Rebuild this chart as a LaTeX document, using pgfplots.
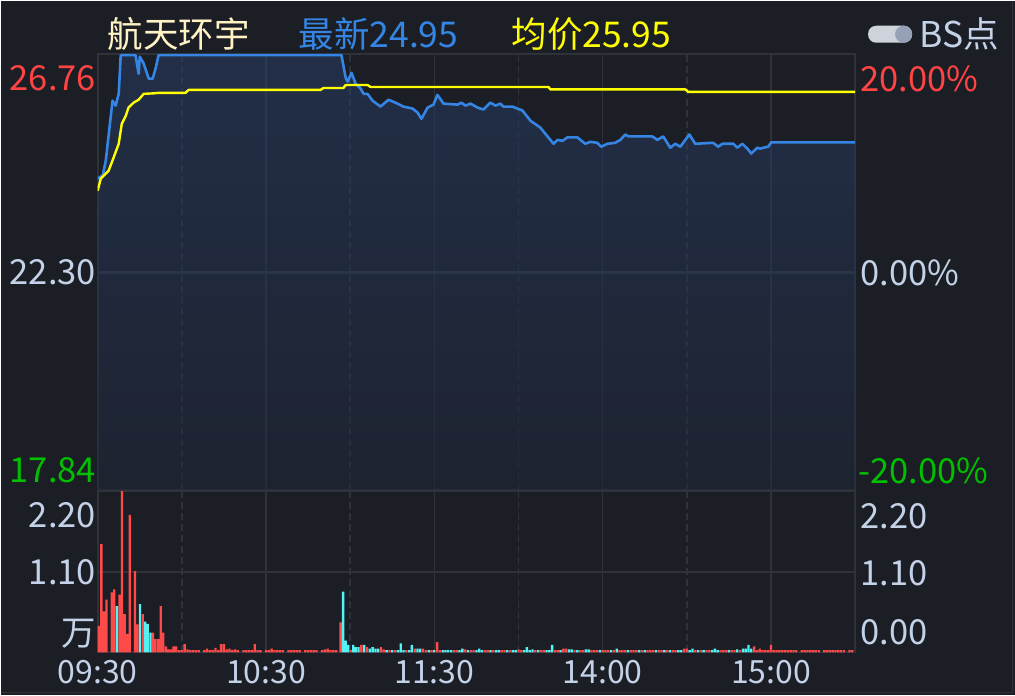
\documentclass[border=0pt]{standalone}
\usepackage{pgfplots}
\pgfplotsset{compat=1.18}
\usepackage{fontspec}
\setmainfont{Noto Sans CJK SC}
\definecolor{bg}{RGB}{28,30,37}
\definecolor{gridc}{RGB}{48,50,58}
\definecolor{gridz}{RGB}{50,56,70}
\definecolor{pline}{RGB}{52,133,228}
\definecolor{avgc}{RGB}{255,255,0}
\definecolor{upred}{RGB}{255,74,74}
\definecolor{dncyan}{RGB}{84,242,242}
\definecolor{lbl}{RGB}{196,210,232}
\definecolor{lblred}{RGB}{255,68,68}
\definecolor{lblgreen}{RGB}{0,192,0}
\definecolor{titlec}{RGB}{255,242,196}
\definecolor{fillt}{RGB}{40,64,107}
\definecolor{fillb}{RGB}{32,40,59}
\definecolor{toga}{RGB}{206,210,218}
\definecolor{togb}{RGB}{150,160,182}
\newcommand\lf{\fontsize{34.5}{41}\selectfont}
\newcommand\hf{\fontsize{35.5}{42}\selectfont}
\newcommand\tf{\fontsize{32}{38}\selectfont}
\begin{document}
\begin{tikzpicture}[x=1pt,y=1pt]
\fill[bg] (0,0) rectangle (1015,-695);
\draw[gridc, line width=1.5pt] (1012.5,0) -- (1012.5,-692.5) -- (0,-692.5);
% price panel
\begin{axis}[
  at={(97pt,-490pt)}, anchor=south west,
  width=758pt, height=437pt, scale only axis,
  xmin=0, xmax=270, ymin=17.84, ymax=26.76,
  axis line style={draw=gridc, line width=2pt},
  xtick={60,120,180,240}, xticklabels={},
  xmajorgrids,
  major grid style={draw=gridc, line width=1.6pt},
  extra x ticks={30,90,150,210}, extra x tick labels={},
  extra x tick style={xmajorgrids=true, major grid style={draw=gridc, line width=1.6pt, dash pattern=on 7pt off 4pt}},
  ytick={18.25,22.30,26.25},
  yticklabels={\textcolor{lblgreen}{17.84},\textcolor{lbl}{22.30},\textcolor{lblred}{26.76}},
  extra y ticks={22.30}, extra y tick labels={},
  extra y tick style={ymajorgrids=true, major grid style={draw=gridz, line width=3pt}},
  major tick length=0pt,
  tick style={draw=none},
  yticklabel style={font=\lf, inner sep=0pt, anchor=east, xshift=-1.5pt},
  clip mode=individual,
]
\addplot[draw=none, top color=fillt, bottom color=fillb, fill opacity=0.5] coordinates {
(0,24.21) (1.1,24.25) (1.8,24.27) (2.9,24.58) (4.6,25.45) (5.3,25.80) (6.4,25.70) (7.5,25.94) (8.2,26.72) (8.5,26.73) (13.5,26.73) (14.6,26.35) (15.0,26.70) (16.4,26.56) (18.2,26.25) (19.6,26.25) (20.7,26.47) (21.7,26.73) (86.9,26.73) (88.4,26.27) (89.1,26.19) (90.5,26.37) (91.9,26.15) (93.7,26.05) (94.8,25.94) (96.2,25.94) (98.0,25.80) (100.8,25.68) (103.7,25.82) (106.9,25.74) (109.0,25.68) (112.2,25.64) (114.0,25.56) (115.4,25.43) (117.6,25.66) (119.7,25.72) (121.1,25.92) (123.3,25.74) (128.3,25.72) (129.7,25.76) (131.1,25.70) (132.9,25.74) (135.4,25.66) (137.5,25.62) (140.0,25.76) (141.8,25.70) (143.6,25.74) (144.6,25.68) (147.8,25.68) (149.6,25.64) (151.4,25.60) (154.3,25.39) (157.8,25.25) (162.5,24.92) (163.9,25.00) (165.7,24.98) (167.4,25.05) (171.0,25.05) (173.8,24.92) (175.6,24.96) (178.1,24.94) (179.5,24.86) (181.7,24.92) (184.5,24.94) (186.3,25.00) (188.1,25.11) (189.2,25.07) (197.7,25.07) (199.5,25.00) (201.6,25.07) (204.1,24.84) (205.9,24.92) (207.7,24.86) (210.9,25.11) (213.0,24.92) (219.4,24.94) (221.2,24.86) (222.7,24.92) (226.6,24.92) (228.0,24.84) (229.8,24.92) (231.6,24.82) (233.0,24.72) (235.1,24.84) (236.2,24.82) (237.3,24.84) (239.0,24.86) (240.1,24.95) (270,24.95)
} \closedcycle;
\addplot[pline, line width=2.6pt, line join=round] coordinates {
(0,24.21) (1.1,24.25) (1.8,24.27) (2.9,24.58) (4.6,25.45) (5.3,25.80) (6.4,25.70) (7.5,25.94) (8.2,26.72) (8.5,26.73) (13.5,26.73) (14.6,26.35) (15.0,26.70) (16.4,26.56) (18.2,26.25) (19.6,26.25) (20.7,26.47) (21.7,26.73) (86.9,26.73) (88.4,26.27) (89.1,26.19) (90.5,26.37) (91.9,26.15) (93.7,26.05) (94.8,25.94) (96.2,25.94) (98.0,25.80) (100.8,25.68) (103.7,25.82) (106.9,25.74) (109.0,25.68) (112.2,25.64) (114.0,25.56) (115.4,25.43) (117.6,25.66) (119.7,25.72) (121.1,25.92) (123.3,25.74) (128.3,25.72) (129.7,25.76) (131.1,25.70) (132.9,25.74) (135.4,25.66) (137.5,25.62) (140.0,25.76) (141.8,25.70) (143.6,25.74) (144.6,25.68) (147.8,25.68) (149.6,25.64) (151.4,25.60) (154.3,25.39) (157.8,25.25) (162.5,24.92) (163.9,25.00) (165.7,24.98) (167.4,25.05) (171.0,25.05) (173.8,24.92) (175.6,24.96) (178.1,24.94) (179.5,24.86) (181.7,24.92) (184.5,24.94) (186.3,25.00) (188.1,25.11) (189.2,25.07) (197.7,25.07) (199.5,25.00) (201.6,25.07) (204.1,24.84) (205.9,24.92) (207.7,24.86) (210.9,25.11) (213.0,24.92) (219.4,24.94) (221.2,24.86) (222.7,24.92) (226.6,24.92) (228.0,24.84) (229.8,24.92) (231.6,24.82) (233.0,24.72) (235.1,24.84) (236.2,24.82) (237.3,24.84) (239.0,24.86) (240.1,24.95) (270,24.95)
};
\addplot[avgc, line width=2.4pt, line join=round] coordinates {
(0,23.96) (1.1,24.21) (3.9,24.37) (5.7,24.64) (7.5,24.92) (8.6,25.33) (10,25.49) (11,25.66) (12.8,25.76) (14.6,25.82) (16.4,25.94) (19.9,25.95) (21.7,25.96) (31.3,25.96) (32.4,26.02) (79.4,26.02) (80.5,26.06) (87.6,26.06) (88.4,26.12) (96.2,26.12) (97.3,26.08) (160.7,26.08) (161.4,26.03) (209.5,26.03) (210.5,25.98) (270,25.98)
};
\end{axis}
% volume panel
\begin{axis}[
  at={(97pt,-652pt)}, anchor=south west,
  width=758pt, height=161pt, scale only axis,
  xmin=0, xmax=270, ymin=0, ymax=2.2,
  axis line style={draw=gridc, line width=2pt},
  xtick={0,60,120,180,240}, xticklabels={09:30,10:30,11:30,14:00,15:00},
  xmajorgrids,
  major grid style={draw=gridc, line width=1.6pt},
  extra x ticks={30,90,150,210}, extra x tick labels={},
  extra x tick style={xmajorgrids=true, major grid style={draw=gridc, line width=1.6pt, dash pattern=on 7pt off 4pt}},
  ytick={0.26,1.09,1.87}, yticklabels={万,1.10,2.20},
  extra y ticks={1.10}, extra y tick labels={},
  extra y tick style={ymajorgrids=true, major grid style={draw=gridc, line width=2.4pt}},
  major tick length=0pt,
  tick style={draw=none},
  yticklabel style={font=\lf, text=lbl, inner sep=0pt, anchor=east, xshift=-1.5pt},
  xticklabel style={font=\tf, text=lbl, inner sep=0pt, anchor=north, yshift=-8pt},
  clip mode=individual,
]
\addplot[ybar, bar width=0.82, bar shift=0pt, fill=upred, draw=none] coordinates {
(0.40,0.36) (1.32,1.48) (2.24,0.56) (3.16,0.72) (5.00,0.82) (5.92,0.86) (7.76,0.79) (8.68,2.25) (9.60,0.52) (10.52,0.25) (11.44,1.88) (13.28,1.11) (14.20,0.38) (16.04,0.52) (19.72,0.27) (20.64,0.18) (21.56,0.18) (22.48,0.63) (23.40,0.27) (24.32,0.08) (25.24,0.04) (26.16,0.04) (27.08,0.08) (28.00,0.08) (29,0.03) (30,0.03) (31,0.11) (32,0.04) (33,0.03) (34,0.03) (35,0.03) (36,0.03) (38,0.03) (39,0.05) (40,0.03) (41,0.03) (42,0.06) (43,0.03) (44,0.11) (45,0.11) (46,0.04) (47,0.05) (48,0.03) (49,0.04) (50,0.03) (52,0.03) (53,0.03) (54,0.03) (55,0.03) (56,0.11) (57,0.03) (58,0.03) (60,0.03) (61,0.03) (62,0.05) (63,0.03) (64,0.03) (65,0.03) (66,0.03) (68,0.03) (69,0.03) (70,0.03) (71,0.03) (72,0.03) (74,0.03) (75,0.03) (76,0.03) (77,0.03) (78,0.03) (80,0.03) (81,0.04) (82,0.05) (83,0.03) (84,0.03) (85,0.03) (86.6,0.41) (90.2,0.03) (94,0.10) (96,0.07) (101,0.07) (102,0.04) (104,0.03) (106,0.03) (110,0.03) (113,0.05) (116,0.05) (117,0.03) (119,0.03) (121,0.14) (122,0.03) (127,0.03) (128,0.03) (131,0.04) (133,0.03) (134,0.03) (138,0.03) (139,0.03) (141,0.03) (144,0.03) (145,0.03) (147,0.03) (150,0.04) (151,0.03) (156,0.03) (158,0.03) (159,0.03) (163,0.03) (164,0.03) (166,0.05) (167,0.05) (170,0.03) (172,0.03) (173,0.03) (176,0.03) (177,0.03) (178,0.03) (180,0.03) (181,0.03) (182,0.03) (184,0.03) (186,0.03) (187,0.03) (188,0.03) (190,0.03) (191,0.03) (192,0.03) (194,0.03) (196,0.03) (197,0.03) (198,0.03) (200,0.03) (201,0.03) (203,0.03) (205,0.03) (206,0.03) (209,0.05) (210,0.05) (213,0.03) (215,0.03) (217,0.03) (218,0.03) (222,0.03) (223,0.03) (224,0.03) (226,0.03) (227,0.03) (229,0.03) (234,0.08) (235,0.03) (236,0.05) (237,0.03) (238,0.03) (239,0.03) (240,0.10) (241,0.03) (242,0.03) (243,0.03) (244,0.03) (245,0.03) (246,0.03) (247,0.03) (248,0.03) (249,0.03) (251,0.03) (252,0.03) (253,0.03) (254,0.03) (255,0.03) (256,0.03) (257,0.03) (259,0.03) (260,0.03) (261,0.03) (262,0.03) (263,0.03) (264,0.03) (265,0.03) (266,0.03) (268,0.03) (269,0.03)
};
\addplot[ybar, bar width=0.82, bar shift=0pt, fill=dncyan, draw=none] coordinates {
(6.84,0.63) (15.12,0.66) (16.96,0.42) (17.88,0.39) (18.80,0.27) (87.5,0.83) (88.4,0.16) (89.3,0.10) (91.1,0.10) (92,0.07) (93,0.07) (95,0.10) (97,0.05) (98,0.07) (99,0.05) (100,0.05) (103,0.03) (105,0.03) (107,0.03) (108,0.12) (109,0.03) (111,0.03) (112,0.10) (114,0.05) (115,0.05) (118,0.03) (120,0.03) (123,0.03) (124,0.03) (125,0.03) (126,0.03) (129,0.03) (130,0.05) (132,0.03) (135,0.03) (136,0.05) (137,0.03) (140,0.03) (142,0.03) (143,0.03) (146,0.03) (148,0.03) (149,0.03) (152,0.03) (153,0.07) (154,0.03) (155,0.04) (157,0.03) (160,0.03) (161,0.03) (162,0.10) (165,0.03) (168,0.04) (169,0.04) (171,0.03) (174,0.04) (175,0.04) (179,0.03) (183,0.03) (185,0.05) (189,0.03) (193,0.03) (195,0.03) (199,0.03) (202,0.03) (204,0.03) (207,0.03) (208,0.03) (211,0.03) (212,0.05) (214,0.03) (216,0.03) (219,0.03) (220,0.05) (221,0.03) (225,0.03) (228,0.04) (230,0.05) (231,0.05) (232,0.10) (233,0.05)
};
\end{axis}
% header
\node[anchor=west, inner sep=0pt, text=titlec, font=\hf] at (107,-33) {航天环宇};
\node[anchor=west, inner sep=0pt, text=pline, font=\hf] at (298,-33) {最新24.95};
\node[anchor=west, inner sep=0pt, text=avgc, font=\hf] at (511,-33) {均价25.95};
\fill[toga, rounded corners=8pt] (868,-25) rectangle (912,-42);
\fill[togb] (903.5,-33.5) circle (8.5);
\node[anchor=west, inner sep=0pt, text=lbl, font=\hf] at (919,-33) {BS点};
% right-hand labels
\node[anchor=west, inner sep=0pt, text=lblred, font=\lf] at (860,-78) {20.00\%};
\node[anchor=west, inner sep=0pt, text=lbl, font=\lf] at (860,-272) {0.00\%};
\node[anchor=west, inner sep=0pt, text=lblgreen, font=\lf] at (858,-470) {-20.00\%};
\node[anchor=west, inner sep=0pt, text=lbl, font=\lf] at (860,-516) {2.20};
\node[anchor=west, inner sep=0pt, text=lbl, font=\lf] at (860,-573) {1.10};
\node[anchor=west, inner sep=0pt, text=lbl, font=\lf] at (860,-632) {0.00};
\end{tikzpicture}
\end{document}
